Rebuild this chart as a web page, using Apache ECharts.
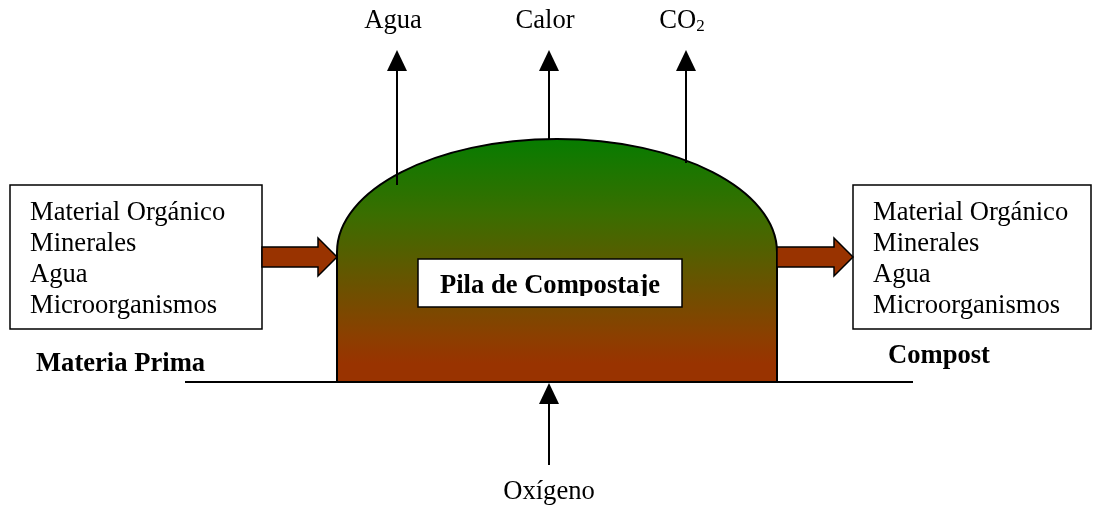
<!DOCTYPE html>
<html>
<head>
<meta charset="utf-8">
<script src="https://cdn.jsdelivr.net/npm/echarts@6/dist/echarts.min.js"></script>
<style>
  html, body { margin: 0; padding: 0; background: #fff; }
  #chart { width: 1093px; height: 505px; }
</style>
</head>
<body>
<div id="chart"></div>
<script>
// textos del diagrama
const outputLabels = ['Agua', 'Calor', 'CO{sub|2}']
const inputItems = ['Material Orgánico', 'Minerales', 'Agua', 'Microorganismos']
const outputItems = ['Material Orgánico', 'Minerales', 'Agua', 'Microorganismos']
const inputTitle = 'Materia Prima'
const outputTitle = 'Compost'
const pileLabel = 'Pila de Compostaje'
const bottomLabel = 'Oxígeno'

// geometria (en unidades del eje, 1 unidad = 1 px)
const L = {
  pile: { left: 337, right: 777, shoulder: 252, top: 139, ground: 382 },
  ground: [185, 913],
  upArrowX: [397, 549, 686],
  upArrowFrom: [185, 139, 163],
  upTip: 50,
  labelY: 21,
  inBox: { x: 10, y: 185, w: 252, h: 144 },
  outBox: { x: 853, y: 185, w: 238, h: 144 },
  lineY0: 213, lineStep: 31, textPad: 20,
  flowY: 257,
  pileBox: { x: 418, y: 259, w: 264, h: 48 },
  oxX: 549, oxFrom: 465, oxLabelY: 492
}

const font = '26.6px "Liberation Serif", "Times New Roman", serif'
const boldFont = 'bold 26.6px "Liberation Serif", "Times New Roman", serif'

const chart = echarts.init(document.getElementById('chart'))

function renderItem (params, api) {
  const p = (x, y) => api.coord([x, y])
  const kids = []
  const pl = L.pile
  const cx = (pl.left + pl.right) / 2
  const rx = (pl.right - pl.left) / 2
  const ry = pl.shoulder - pl.top
  const k = 0.5523

  // flechas finas hacia arriba
  const upArrow = (x, y0, yTip) => {
    const a = p(x, y0), b = p(x, yTip + 20)
    kids.push({ type: 'line', shape: { x1: a[0], y1: a[1], x2: b[0], y2: b[1] }, style: { stroke: '#000', lineWidth: 2 } })
    kids.push({ type: 'polygon', shape: { points: [p(x, yTip), p(x - 10, yTip + 21), p(x + 10, yTip + 21)] }, style: { fill: '#000' } })
  }

  // flecha gruesa horizontal
  const flowArrow = (x0, tip) => {
    const y = L.flowY, hx = tip - 19
    const pts = [[x0, y - 10], [hx, y - 10], [hx, y - 19], [tip, y], [hx, y + 19], [hx, y + 10], [x0, y + 10]].map(q => p(q[0], q[1]))
    kids.push({ type: 'polygon', shape: { points: pts }, style: { fill: '#993300', stroke: '#000', lineWidth: 1.5 } })
  }

  const box = (b, items) => {
    const a = p(b.x, b.y)
    kids.push({ type: 'rect', shape: { x: a[0], y: a[1], width: b.w, height: b.h }, style: { fill: '#fff', stroke: '#000', lineWidth: 1.5 } })
    items.forEach((t, i) => {
      const q = p(b.x + L.textPad, L.lineY0 + i * L.lineStep)
      kids.push({ type: 'text', style: { text: t, x: q[0], y: q[1], font: font, fill: '#000', align: 'left', verticalAlign: 'middle' } })
    })
  }

  // pila
  const P = (x, y) => p(x, y).join(' ')
  const path = 'M ' + P(pl.left, pl.ground) +
    ' L ' + P(pl.left, pl.shoulder) +
    ' C ' + P(pl.left, pl.shoulder - k * ry) + ' ' + P(cx - k * rx, pl.top) + ' ' + P(cx, pl.top) +
    ' C ' + P(cx + k * rx, pl.top) + ' ' + P(pl.right, pl.shoulder - k * ry) + ' ' + P(pl.right, pl.shoulder) +
    ' L ' + P(pl.right, pl.ground) + ' Z'
  kids.push({
    type: 'path',
    shape: { pathData: path },
    style: {
      fill: new echarts.graphic.LinearGradient(0, 0, 0, 1, [
        { offset: 0, color: '#067c00' },
        { offset: 0.31, color: '#3a6e00' },
        { offset: 0.55, color: '#625700' },
        { offset: 0.8, color: '#8a4000' },
        { offset: 0.92, color: '#993300' },
        { offset: 1, color: '#993300' }
      ]),
      stroke: '#000',
      lineWidth: 2
    }
  })

  L.upArrowX.forEach((x, i) => upArrow(x, L.upArrowFrom[i], L.upTip))
  outputLabels.forEach((t, i) => {
    const q = p(L.upArrowX[i] - 4, L.labelY)
    kids.push({
      type: 'text',
      style: {
        text: t, x: q[0], y: q[1], font: font, fill: '#000', align: 'center', verticalAlign: 'middle',
        rich: { sub: { font: '17px "Liberation Serif", serif', padding: [12, 0, 0, 0] } }
      }
    })
  })

  // suelo
  const g0 = p(L.ground[0], pl.ground), g1 = p(L.ground[1], pl.ground)
  kids.push({ type: 'line', shape: { x1: g0[0], y1: g0[1], x2: g1[0], y2: g1[1] }, style: { stroke: '#000', lineWidth: 2 } })

  box(L.inBox, inputItems)
  box(L.outBox, outputItems)
  flowArrow(L.inBox.x + L.inBox.w, pl.left)
  flowArrow(pl.right, L.outBox.x)

  // etiqueta de la pila (texto recortado abajo)
  const pb = L.pileBox
  const a = p(pb.x, pb.y)
  kids.push({ type: 'rect', shape: { x: a[0], y: a[1], width: pb.w, height: pb.h }, style: { fill: '#fff', stroke: '#000', lineWidth: 1.5 } })
  const c = p(pb.x + pb.w / 2, 286)
  kids.push({ type: 'text', style: { text: pileLabel, x: c[0], y: c[1], font: boldFont, fill: '#000', align: 'center', verticalAlign: 'middle' } })
  const m = p(pb.x + 1, 296)
  kids.push({ type: 'rect', shape: { x: m[0], y: m[1], width: pb.w - 2, height: pb.y + pb.h - 297 }, style: { fill: '#fff' } })

  // titulos
  const t1 = p(36, 364)
  kids.push({ type: 'text', style: { text: inputTitle, x: t1[0], y: t1[1], font: boldFont, fill: '#000', verticalAlign: 'middle' } })
  const t2 = p(888, 356)
  kids.push({ type: 'text', style: { text: outputTitle, x: t2[0], y: t2[1], font: boldFont, fill: '#000', verticalAlign: 'middle' } })

  // oxigeno
  const o0 = p(L.oxX, L.oxFrom), o1 = p(L.oxX, pl.ground + 21)
  kids.push({ type: 'line', shape: { x1: o0[0], y1: o0[1], x2: o1[0], y2: o1[1] }, style: { stroke: '#000', lineWidth: 2 } })
  kids.push({ type: 'polygon', shape: { points: [p(L.oxX, pl.ground + 1), p(L.oxX - 10, pl.ground + 22), p(L.oxX + 10, pl.ground + 22)] }, style: { fill: '#000' } })
  const ol = p(L.oxX, L.oxLabelY)
  kids.push({ type: 'text', style: { text: bottomLabel, x: ol[0], y: ol[1], font: font, fill: '#000', align: 'center', verticalAlign: 'middle' } })

  return { type: 'group', children: kids }
}

const option = {
  animation: false,
  grid: { left: 0, right: 0, top: 0, bottom: 0 },
  xAxis: { type: 'value', min: 0, max: 1093, show: false },
  yAxis: { type: 'value', min: 0, max: 505, inverse: true, show: false },
  series: [{
    type: 'custom',
    renderItem: renderItem,
    data: [[0, 0]],
    silent: true
  }]
}
chart.setOption(option)
</script>
</body>
</html>
